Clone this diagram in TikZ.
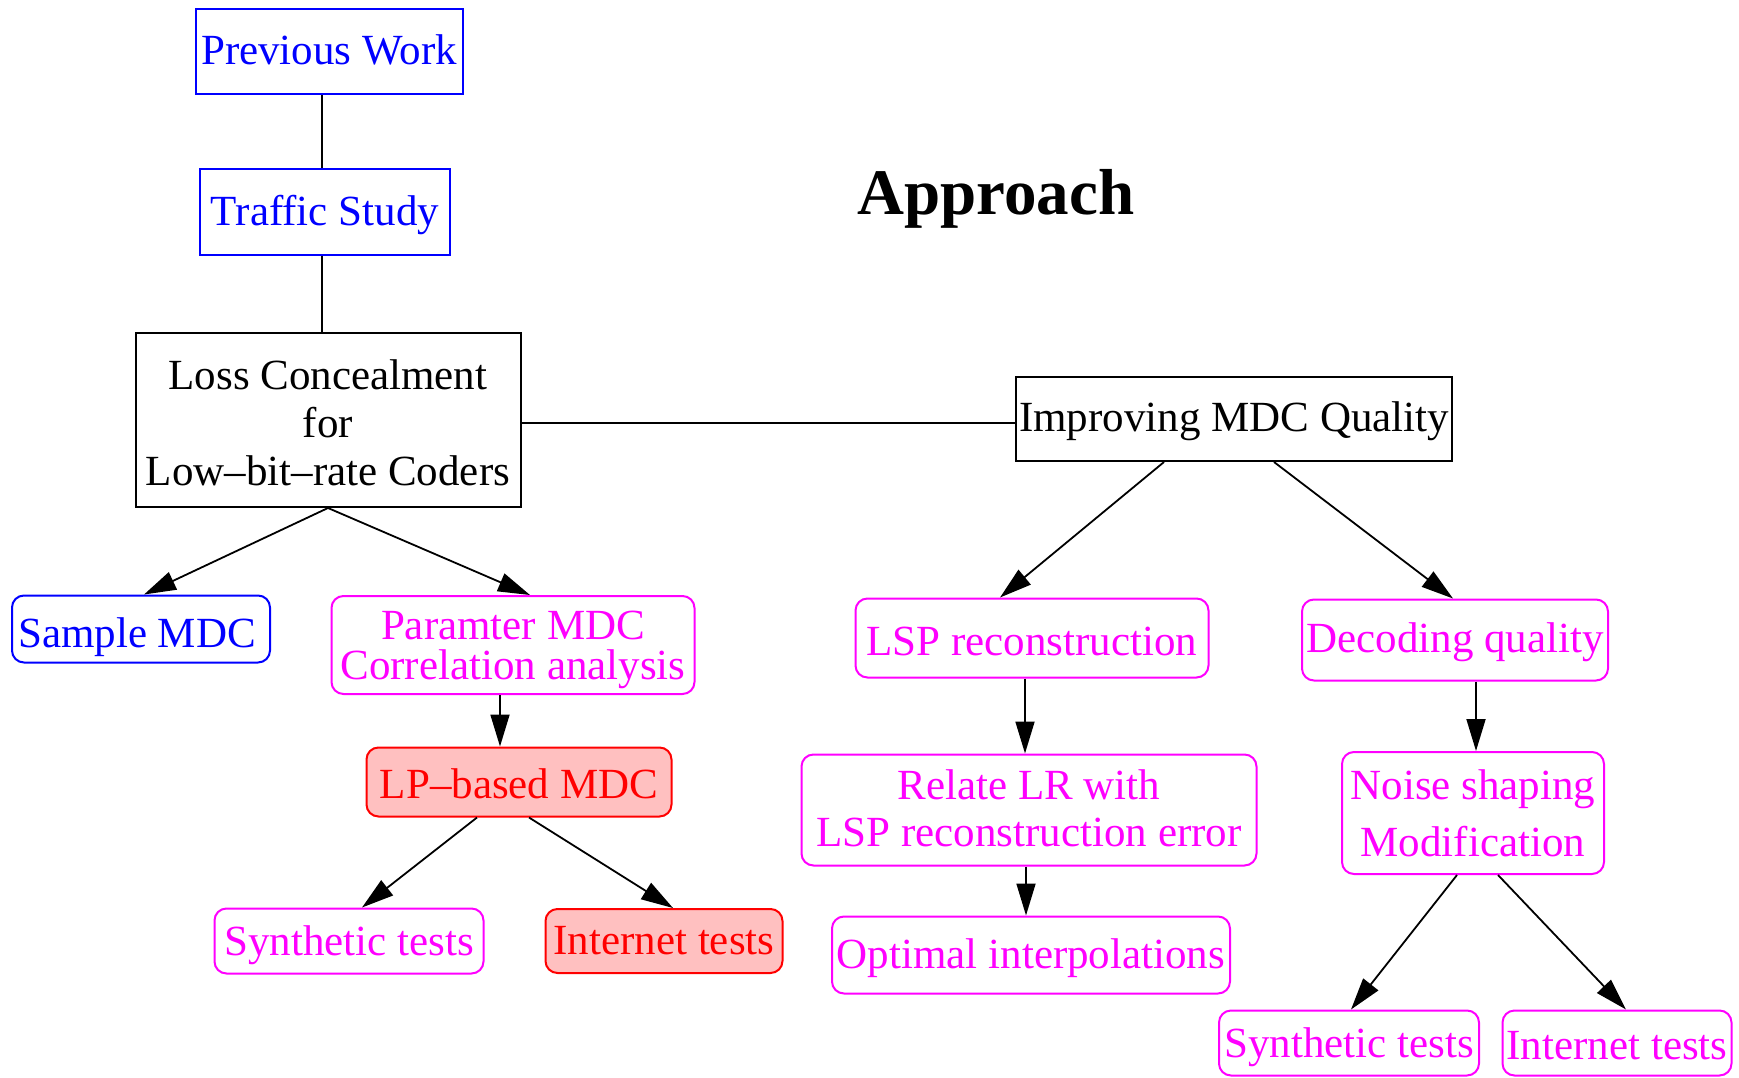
\documentclass[tikz,border=0pt]{standalone}
\usepackage{fontspec}
\setmainfont{Liberation Serif}
\usetikzlibrary{arrows.meta}
\definecolor{mblue}{RGB}{0,0,255}
\definecolor{mmag}{RGB}{255,0,255}
\definecolor{mred}{RGB}{255,0,0}
\definecolor{mpink}{RGB}{255,192,192}
\begin{document}
\begin{tikzpicture}[x=1pt,y=-1pt,
  box/.style={draw, line width=2pt, inner sep=0pt, align=center, font=\fontsize{43}{48}\selectfont},
  sqbox/.style={box},
  rbox/.style={box, rounded corners=12pt},
  bluebox/.style={draw=mblue, text=mblue},
  magbox/.style={draw=mmag, text=mmag},
  redbox/.style={draw=mred, text=mred, fill=mpink},
  link/.style={line width=1.8pt},
  arr/.style={line width=1.8pt, -{Triangle[length=32pt,width=19pt]}}]
\useasboundingbox (0,0) rectangle (1739,1078);
\fill[white] (0,0) rectangle (1739,1078);

\node[font=\fontsize{65}{70}\selectfont\bfseries] (title) at (996,199) {Approach};

\node[sqbox,bluebox,minimum width=267pt,minimum height=85pt,text height=32.6pt,text depth=7.4pt] (prev) at (329,52) {Previous Work};
\node[sqbox,bluebox,minimum width=250pt,minimum height=85pt,text height=33.5pt,text depth=6.5pt] (traffic) at (325,212) {Traffic Study};
\node[sqbox,minimum width=385pt,minimum height=174pt] (loss) at (328,420) {\rule{0pt}{36.4pt}Loss Concealment\\for\\Low\textendash bit\textendash rate Coders};
\node[sqbox,minimum width=436pt,minimum height=84pt,text height=32.4pt,text depth=7.6pt] (improving) at (1234,419) {Improving MDC Quality};

\node[rbox,bluebox,minimum width=258pt,minimum height=67pt,text height=38pt,text depth=2pt] (sample) at (141,629) {\hspace*{-8pt}Sample MDC};
\node[rbox,magbox,minimum width=363pt,minimum height=98pt,font=\fontsize{43}{40}\selectfont] (param) at (513,645) {\rule{0pt}{38pt}Paramter MDC\\Correlation analysis};
\node[rbox,redbox,minimum width=305pt,minimum height=69pt,text height=36.8pt,text depth=3.2pt] (lp) at (519,782) {LP\textendash based MDC};
\node[rbox,magbox,minimum width=269pt,minimum height=65pt,text height=34.6pt,text depth=5.4pt] (synthL) at (349,941) {Synthetic tests};
\node[rbox,redbox,minimum width=237pt,minimum height=64pt,text height=33pt,text depth=7pt] (internetL) at (664,941) {Internet tests};

\node[rbox,magbox,minimum width=353pt,minimum height=79pt,text height=37.1pt,text depth=2.9pt] (lsp) at (1032,638) {LSP reconstruction};
\node[rbox,magbox,minimum width=306pt,minimum height=81pt,text height=32.4pt,text depth=7.6pt] (decoding) at (1455,640) {Decoding quality};
\node[rbox,magbox,minimum width=455pt,minimum height=111pt,font=\fontsize{43}{47}\selectfont] (relate) at (1029,810) {Relate LR with\\LSP reconstruction error\rule[-4.4pt]{0pt}{4.4pt}};
\node[rbox,magbox,minimum width=262pt,minimum height=122pt,font=\fontsize{43}{57}\selectfont] (noise) at (1473,813) {Noise shaping\\Modification};
\node[rbox,magbox,minimum width=398pt,minimum height=77pt,text height=33.5pt,text depth=6.5pt] (optimal) at (1031,955) {Optimal interpolations};
\node[rbox,magbox,minimum width=260pt,minimum height=65pt,text height=34.6pt,text depth=5.4pt] (synthR) at (1349,1043) {Synthetic tests};
\node[rbox,magbox,minimum width=229pt,minimum height=65pt,text height=36.4pt,text depth=3.6pt] (internetR) at (1617,1043) {Internet tests};

\draw[link] ([xshift=-7pt]prev.south) -- ([xshift=-3pt]traffic.north);
\draw[link] ([xshift=-3pt]traffic.south) -- ([xshift=-6pt]loss.north);
\draw[link] ([yshift=-3pt]loss.east) -- ([yshift=-4pt]improving.west);

\draw[arr] (loss.south) -- ([xshift=3pt]sample.north);
\draw[arr] (loss.south) -- ([xshift=17pt]param.north);
\draw[arr] ([xshift=-13pt]param.south) -- ([xshift=-19pt]lp.north);
\draw[arr] ([xshift=-42pt]lp.south) -- ([xshift=13pt]synthL.north);
\draw[arr] ([xshift=10pt]lp.south) -- ([xshift=9pt]internetL.north);

\draw[arr] ([xshift=-70pt]improving.south) -- ([xshift=-32pt]lsp.north);
\draw[arr] ([xshift=40pt]improving.south) -- ([xshift=-2pt]decoding.north);
\draw[arr] ([xshift=-7pt]lsp.south) -- ([xshift=-4pt]relate.north);
\draw[arr] ([xshift=-3pt]relate.south) -- ([xshift=-5pt]optimal.north);
\draw[arr] ([xshift=21pt]decoding.south) -- ([xshift=3pt]noise.north);
\draw[arr] ([xshift=-16pt]noise.south) -- ([xshift=2pt]synthR.north);
\draw[arr] ([xshift=25pt]noise.south) -- ([xshift=9pt]internetR.north);
\end{tikzpicture}
\end{document}
